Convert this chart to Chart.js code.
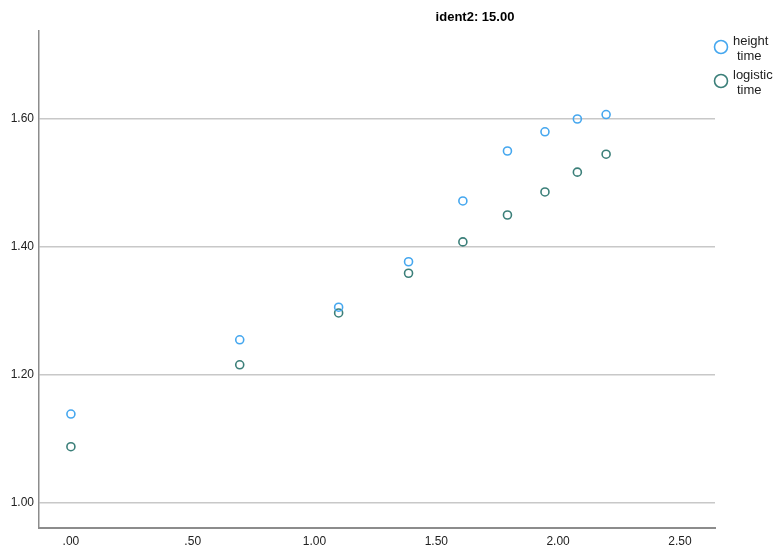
<!DOCTYPE html>
<html>
<head>
<meta charset="utf-8">
<script src="https://cdn.jsdelivr.net/npm/chart.js@4"></script>
<style>
  html, body { margin: 0; padding: 0; background: #fff; }
  #wrap { width: 783px; height: 552px; position: relative; }
</style>
</head>
<body>
<div id="wrap"><canvas id="plot"></canvas></div>
<script>
// valores de x (tiempo en escala log)
let tiempo = [0.0, 0.693, 1.099, 1.386, 1.609, 1.792, 1.946, 2.079, 2.197];
// serie height time
let heightTime = [1.139, 1.255, 1.306, 1.377, 1.472, 1.550, 1.580, 1.600, 1.607];
// serie logistic time
let logisticTime = [1.088, 1.216, 1.297, 1.359, 1.408, 1.450, 1.486, 1.517, 1.545];
let xTicks = [0, 0.5, 1.0, 1.5, 2.0, 2.5];
let yTicks = [1.0, 1.2, 1.4, 1.6];
let titulo = "ident2: 15.00";
let leyenda = [["height", "time"], ["logistic", "time"]];
let colores = ["#45a7ef", "#3b7f79"];

let toPoints = (ys) => tiempo.map((x, i) => ({ x: x, y: ys[i] }));

let fmt = (v) => {
  let s = Number(v).toFixed(2);
  return s.startsWith("0") ? s.substring(1) : s;
};

// titulo y leyenda dibujados a mano
let extras = {
  id: "extras",
  afterDraw(chart) {
    let ctx = chart.ctx;
    ctx.save();
    ctx.fillStyle = "#000";
    ctx.font = "bold 13px 'Liberation Sans', Arial, sans-serif";
    ctx.textAlign = "center";
    ctx.textBaseline = "middle";
    ctx.fillText(titulo, 475, 17);

    ctx.font = "13px 'Liberation Sans', Arial, sans-serif";
    ctx.textAlign = "left";
    leyenda.forEach((lines, i) => {
      let y0 = 47 + i * 34;
      ctx.beginPath();
      ctx.arc(721, y0, 6.5, 0, Math.PI * 2);
      ctx.strokeStyle = colores[i];
      ctx.lineWidth = 1.6;
      ctx.stroke();
      ctx.fillStyle = "#222";
      ctx.fillText(lines[0], 733, y0 - 6);
      ctx.fillText(lines[1], 737, y0 + 9);
    });
    ctx.restore();
  },
};

let config = {
  type: "scatter",
  data: {
    datasets: [
      {
        label: "height time",
        data: toPoints(heightTime),
        borderColor: colores[0],
        backgroundColor: "rgba(255,255,255,0)",
        pointRadius: 4,
        pointBorderWidth: 1.6,
      },
      {
        label: "logistic time",
        data: toPoints(logisticTime),
        borderColor: colores[1],
        backgroundColor: "rgba(255,255,255,0)",
        pointRadius: 4,
        pointBorderWidth: 1.6,
      },
    ],
  },
  options: {
    responsive: false,
    animation: false,
    layout: { padding: { left: 0, top: 31, right: 68, bottom: 0 } },
    plugins: { legend: { display: false }, tooltip: { enabled: false } },
    scales: {
      x: {
        type: "linear",
        min: -0.131,
        max: 2.644,
        afterBuildTicks: (s) => { s.ticks = xTicks.map((v) => ({ value: v })); },
        afterFit: (s) => { s.height = 24; },
        grid: { display: false, drawTicks: false },
        border: { color: "#8c8c8c", width: 2 },
        ticks: {
          color: "#222",
          padding: 6,
          font: { family: "'Liberation Sans', Arial, sans-serif", size: 12 },
          callback: (v) => fmt(v),
        },
      },
      y: {
        min: 0.961,
        max: 1.7375,
        afterBuildTicks: (s) => { s.ticks = yTicks.map((v) => ({ value: v })); },
        afterFit: (s) => { s.width = 39; },
        grid: { color: "#c8c8c8", lineWidth: 1.5, drawTicks: false },
        border: { color: "#8c8c8c", width: 1.5 },
        ticks: {
          color: "#222",
          padding: 5,
          font: { family: "'Liberation Sans', Arial, sans-serif", size: 12 },
          callback: (v) => fmt(v),
        },
      },
    },
  },
  plugins: [extras],
};

let canvas = document.getElementById("plot");
canvas.width = 783;
canvas.height = 552;
new Chart(canvas, config);
</script>
</body>
</html>
